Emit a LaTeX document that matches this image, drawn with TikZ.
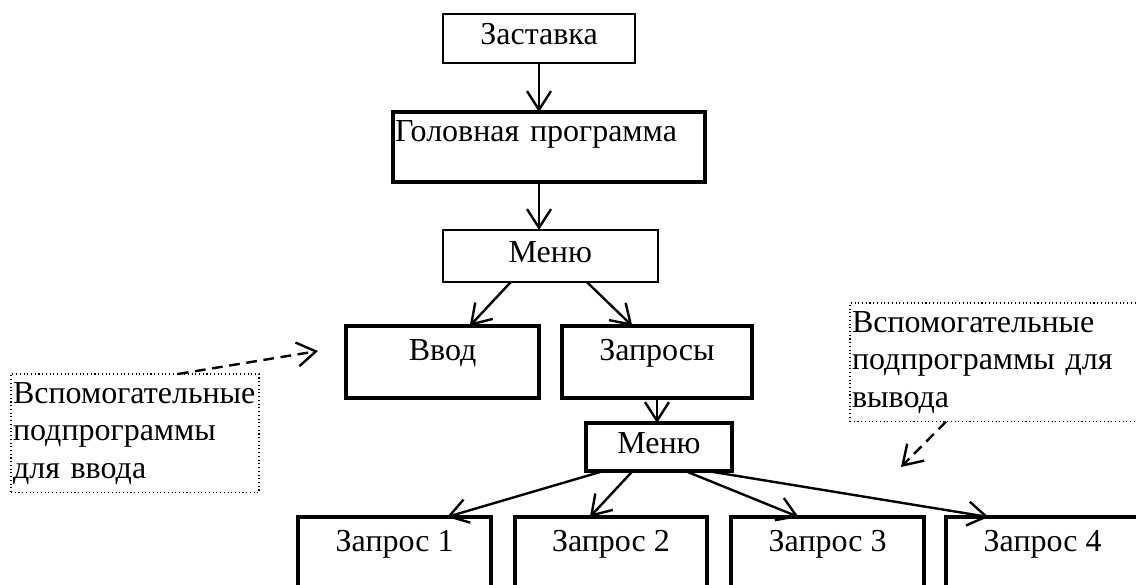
\documentclass[tikz,border=0pt]{standalone}
\usepackage{fontspec}
\setmainfont{Liberation Serif}
\usetikzlibrary{calc,arrows.meta}

\tikzset{
  blk/.style={draw, line width=3pt, inner sep=0pt, outer sep=0pt, anchor=north west,
    font=\fontsize{24}{28}\selectfont},
  thinblk/.style={blk, line width=1.5pt},
  note/.style={draw, dotted, line width=0.8pt, inner xsep=1.5pt, inner ysep=0pt, outer sep=0pt,
    anchor=north west, align=left, font=\fontsize{24}{28}\selectfont},
  arr/.style={-{Straight Barb[length=14pt,width=18pt]}, line width=1.8pt},
  dasharr/.style={arr, line width=1.8pt, dash pattern=on 8pt off 5pt},
}

\begin{document}
\begin{tikzpicture}[x=0.75pt,y=-0.75pt]
    \useasboundingbox (0,0) rectangle (1136,585);
    \node[thinblk, minimum width=144pt, text height=23pt, text depth=13.5pt] (zast) at (443,14) {Заставка};
    \node[blk, inner xsep=1.5pt, text width=231pt, align=left, text height=22.5pt, text depth=30pt] (head) at (393,112) {Головная программа};
    \node[thinblk, minimum width=161pt, text height=24pt, text depth=15pt] (menu) at (443,230) {Меню};
    \node[blk, minimum width=145pt, text height=25.5pt, text depth=28.5pt] (input) at (346,326) {Ввод};
    \node[blk, minimum width=142.5pt, text height=25.5pt, text depth=28.5pt] (queries) at (562,326) {Запросы};
    \node[blk, line width=2.6pt, minimum width=109.5pt, text height=22.5pt, text depth=13.5pt] (submenu) at (586,423) {Меню};
    \node[blk, minimum width=145pt, text height=26pt, text depth=40pt] (q1) at (298,517) {Запрос 1};
    \node[blk, minimum width=144pt, text height=26pt, text depth=40pt] (q2) at (515,517) {Запрос 2};
    \node[blk, minimum width=145pt, text height=26pt, text depth=40pt] (q3) at (731,517) {Запрос 3};
    \node[blk, minimum width=145pt, text height=26pt, text depth=40pt] (q4) at (946,517) {Запрос 4};
    \node[note, text width=183pt, minimum height=89pt] (noteL) at (11,374) {Вспомогательные\\подпрограммы\\для ввода};
    \node[note, text width=222pt, minimum height=89pt] (noteR) at (850,303) {Вспомогательные\\подпрограммы для\\вывода};
    \coordinate (inputtip) at (318,351);
    \coordinate (outtip) at (901,467);
    \draw[arr] (zast.south) -- (zast.south |- head.north);
    \draw[arr] (zast.south |- head.south) -- (zast.south |- menu.north);
    \draw[arr] ($(menu.south west)!0.316!(menu.south east)$) -- ($(input.north west)!0.64!(input.north east)$);
    \draw[arr] ($(menu.south west)!0.67!(menu.south east)$) -- ($(queries.north west)!0.37!(queries.north east)$);
    \draw[arr] (queries.south) -- (queries.south |- submenu.north);
    \draw[arr] ($(submenu.south west)!0.12!(submenu.south east)$) -- ($(q1.north west)!0.77!(q1.north east)$);
    \draw[arr] ($(submenu.south west)!0.32!(submenu.south east)$) -- ($(q2.north west)!0.39!(q2.north east)$);
    \draw[arr] ($(submenu.south west)!0.68!(submenu.south east)$) -- ($(q3.north west)!0.35!(q3.north east)$);
    \draw[arr] ($(submenu.south west)!0.83!(submenu.south east)$) -- ($(q4.north west)!0.22!(q4.north east)$);
    \draw[dasharr] ($(noteL.north west)!0.673!(noteL.north east)$) -- (inputtip);
    \draw[dasharr] ($(noteR.south west)!0.32!(noteR.south east)$) -- (outtip);
  \end{tikzpicture}
\end{document}
